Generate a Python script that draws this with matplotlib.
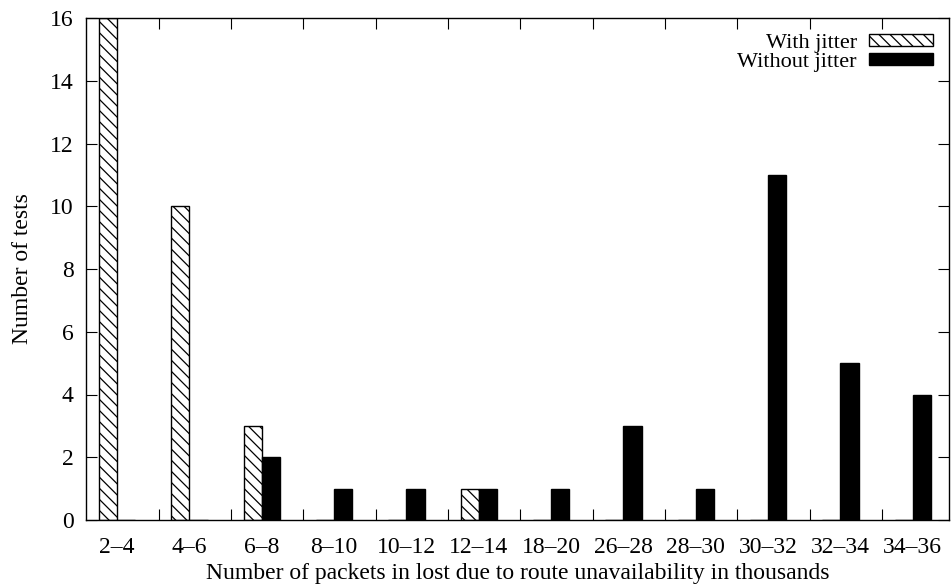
import numpy as np
import matplotlib.pyplot as plt

categories = ["2\u20134", "4\u20136", "6\u20138", "8\u201310", "10\u201312", "12\u201314",
              "18\u201320", "26\u201328", "28\u201330", "30\u201332", "32\u201334", "34\u201336"]
with_jitter = [16, 10, 3, 0, 0, 1, 0, 0, 0, 0, 0, 0]
without_jitter = [0, 0, 2, 1, 1, 1, 1, 3, 1, 11, 5, 4]

plt.rcParams['font.family'] = ['Liberation Serif', 'DejaVu Serif']
plt.rcParams['hatch.linewidth'] = 0.9

fig = plt.figure(figsize=(9.51, 5.86), dpi=100)
ax = fig.add_axes([86/951, 1-520/586, (949-86)/951, (520-18)/586])

centers = np.arange(len(categories)) * 4
ax.bar(centers - 0.5, with_jitter, width=1, color='white', edgecolor='black',
       hatch='\\\\\\', linewidth=1, label='With jitter')
ax.bar(centers + 0.5, without_jitter, width=1, color='black', edgecolor='black',
       linewidth=1, label='Without jitter')

ax.set_xlim(-1.72, 46)
ax.set_ylim(0, 16)
ax.set_yticks(range(0, 17, 2))
ax.set_xticks(centers)
ax.set_xticklabels(categories)
ax.set_xticks(centers[:-1] + 2.3, minor=True)

fs = 17
ax.tick_params(axis='x', which='major', length=0, labelsize=fs, pad=12)
ax.tick_params(axis='x', which='minor', length=8, width=0.8, direction='in', top=True, bottom=True)
ax.tick_params(axis='y', length=8, width=0.8, direction='in', left=True, right=True,
               labelsize=fs, pad=9)
for s in ax.spines.values():
    s.set_linewidth(1)

ax.set_xlabel("Number of packets in lost due to route unavailability in thousands", fontsize=fs, labelpad=4)
ax.set_ylabel("Number of tests", fontsize=fs, labelpad=12)

ax.legend(loc='upper right', frameon=False, markerfirst=False, fontsize=16,
          handlelength=2.9, handleheight=0.5, labelspacing=0.0,
          borderaxespad=0.3, handletextpad=0.55)

plt.savefig("out.png", dpi=100)
